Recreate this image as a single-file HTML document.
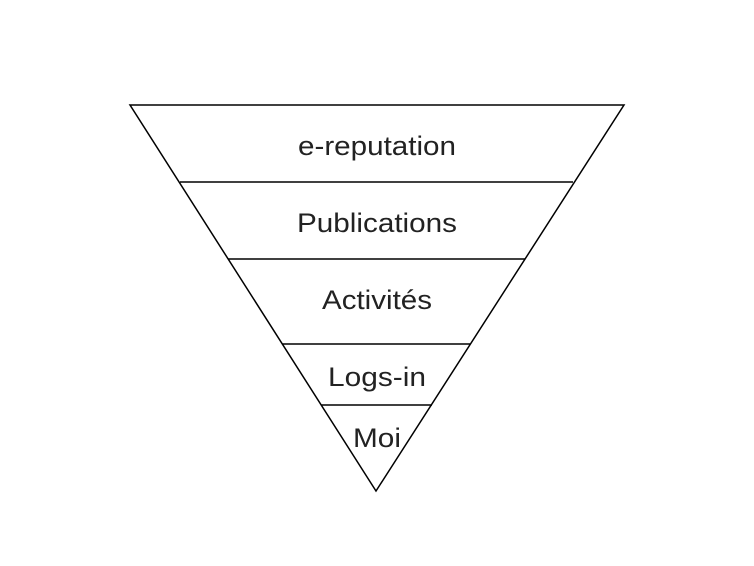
<!DOCTYPE html>
<html><head><meta charset="utf-8"><style>
html,body{margin:0;padding:0;background:#fff;width:754px;height:566px;overflow:hidden}
</style></head><body>
<svg width="754" height="566" viewBox="0 0 754 566" xmlns="http://www.w3.org/2000/svg">
<g stroke="#000" stroke-width="1.5" fill="none">
<polygon points="130,105 624,105 376,491"/>
<line x1="180" y1="182" x2="573" y2="182"/>
<line x1="228" y1="259" x2="525" y2="259"/>
<line x1="282" y1="344" x2="470" y2="344"/>
<line x1="321" y1="405" x2="432" y2="405"/>
</g>
<g font-family="Liberation Sans, sans-serif" font-size="27" fill="#222" lengthAdjust="spacingAndGlyphs">
<text x="298" y="155" textLength="158" lengthAdjust="spacingAndGlyphs">e-reputation</text>
<text x="297" y="232" textLength="160" lengthAdjust="spacingAndGlyphs">Publications</text>
<text x="322" y="309" textLength="110" lengthAdjust="spacingAndGlyphs">Activités</text>
<text x="328" y="386" textLength="98" lengthAdjust="spacingAndGlyphs">Logs-in</text>
<text x="353" y="447" textLength="48" lengthAdjust="spacingAndGlyphs">Moi</text>
</g>
</svg>
</body></html>
